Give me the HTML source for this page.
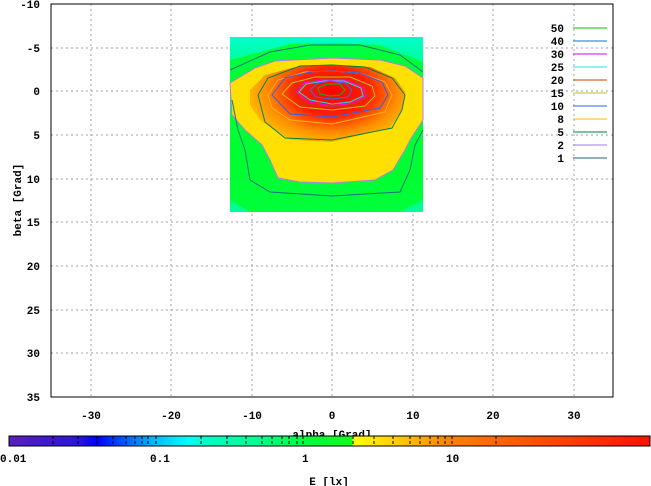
<!DOCTYPE html>
<html><head><meta charset="utf-8"><style>
body{margin:0;background:#fff}
svg{display:block}
text{font-family:"Liberation Mono",monospace;font-size:11px;font-weight:bold;fill:#000}
</style></head><body>
<svg width="651" height="486" viewBox="0 0 651 486" xmlns="http://www.w3.org/2000/svg">
<defs>
<linearGradient id="bg" x1="0" y1="0" x2="0" y2="1">
<stop offset="0" stop-color="#00ffcc"/><stop offset="0.3" stop-color="#00ff60"/><stop offset="0.8" stop-color="#00ff40"/><stop offset="1" stop-color="#00ffa0"/></linearGradient>
<linearGradient id="cb" x1="0" y1="0" x2="1" y2="0">
<stop offset="0" stop-color="#5a1ec0"/>
<stop offset="0.109" stop-color="#2a14e0"/>
<stop offset="0.137" stop-color="#0000ff"/>
<stop offset="0.229" stop-color="#00c0ff"/>
<stop offset="0.28" stop-color="#00ffff"/>
<stop offset="0.30" stop-color="#00ffcc"/>
<stop offset="0.39" stop-color="#00ff90"/>
<stop offset="0.459" stop-color="#00ff40"/>
<stop offset="0.535" stop-color="#10ff20"/>
<stop offset="0.537" stop-color="#ffff00"/>
<stop offset="0.62" stop-color="#ffc000"/>
<stop offset="0.688" stop-color="#ff8000"/>
<stop offset="1" stop-color="#ff1000"/>
</linearGradient>
<radialGradient id="hot" cx="332" cy="92" r="95" gradientUnits="userSpaceOnUse" gradientTransform="translate(332 92) scale(1 0.62) translate(-332 -92)">
<stop offset="0" stop-color="#ff0000"/><stop offset="0.4" stop-color="#ff2000"/><stop offset="0.7" stop-color="#ff9000"/><stop offset="1" stop-color="#ffd000"/></radialGradient>
</defs>
<g stroke="#a0a0a0" stroke-dasharray="2,3" stroke-width="1">
<line x1="91" y1="4" x2="91" y2="397"/><line x1="171" y1="4" x2="171" y2="397"/><line x1="252" y1="4" x2="252" y2="397"/><line x1="332" y1="4" x2="332" y2="397"/><line x1="413" y1="4" x2="413" y2="397"/><line x1="493" y1="4" x2="493" y2="397"/><line x1="574" y1="4" x2="574" y2="397"/>
<line x1="51" y1="48" x2="613" y2="48"/><line x1="51" y1="91" x2="613" y2="91"/><line x1="51" y1="135" x2="613" y2="135"/><line x1="51" y1="179" x2="613" y2="179"/><line x1="51" y1="222" x2="613" y2="222"/><line x1="51" y1="266" x2="613" y2="266"/><line x1="51" y1="310" x2="613" y2="310"/><line x1="51" y1="353" x2="613" y2="353"/>
</g>
<rect x="230" y="37" width="193" height="175" fill="url(#bg)"/>
<path d="M230,60 L290,44 L332,43 L380,45 L423,62 L423,200 L400,212 L250,212 L230,200Z" fill="#00ff30" opacity="0.9"/>
<path d="M230,83 L255,68 L275,61 L332,58 L380,60 L405,66 L423,78 L423,120 L410,140 L405,150 L393,170 L375,180 L332,183 L300,182 L278,178 L270,160 L262,145 L245,130 L232,115 Z" fill="#ffe000" stroke="#b080e0" stroke-width="1"/>
<path d="M250,90 L265,75 L300,66 L332,65 L370,67 L395,78 L405,92 L402,110 L390,128 L332,142 L290,140 L260,120 L250,105Z" fill="url(#hot)"/>
<g fill="none" stroke-width="1">
<path d="M230,70 L270,52 L310,45 L360,45 L400,55 L423,72" stroke="#207080"/>
<path d="M232,100 L238,130 L245,150 L250,180 L270,192 L332,196 L400,192 L410,170 L415,145 L423,130" stroke="#207080"/>
<path d="M258,95 L268,78 L300,66 L332,65 L365,67 L392,78 L405,95 L402,110 L392,128 L332,140 L285,138 L265,122Z" stroke="#008040"/>
<path d="M268,95 L278,80 L305,72 L332,71 L360,73 L385,82 L392,95 L385,112 L332,124 L290,120 L272,108Z" stroke="#ffb020"/>
<path d="M272,95 L285,78 L310,72 L332,71 L360,73 L382,82 L388,95 L380,108 L332,117 L290,114 Z" stroke="#3060f0"/>
<path d="M282,94 L292,83 L315,77 L350,77 L372,86 L375,96 L365,106 L332,110 L300,107Z" stroke="#c0c020"/>
<path d="M292,92 L300,83 L320,79 L345,79 L365,86 L368,96 L355,104 L332,107 L305,104Z" stroke="#c04000"/>
<path d="M296,92 L304,83 L322,80 L345,80 L363,87 L366,96 L353,103 L332,106 L308,102Z" stroke="#ff00ff"/>
<path d="M299,92 L306,84 L324,81 L344,81 L361,88 L363,96 L350,102 L332,104 L310,100Z" stroke="#20e0e0"/>
<path d="M310,90 L318,83 L330,81 L345,83 L352,90 L348,97 L332,99 L316,97Z" stroke="#3070f0"/>
<path d="M318,88 L327,84 L340,84 L345,90 L340,95 L330,96 L320,94Z" stroke="#00c000"/>
</g>
<rect x="51" y="4" width="562" height="393" fill="none" stroke="#000"/>
<g text-anchor="end">
<text x="40" y="8">-10</text><text x="40" y="52">-5</text><text x="40" y="95">0</text><text x="40" y="139">5</text><text x="40" y="183">10</text><text x="40" y="226">15</text><text x="40" y="270">20</text><text x="40" y="314">25</text><text x="40" y="357">30</text><text x="40" y="401">35</text>
</g>
<g text-anchor="middle">
<text x="91" y="419">-30</text><text x="171" y="419">-20</text><text x="252" y="419">-10</text><text x="332" y="419">0</text><text x="413" y="419">10</text><text x="493" y="419">20</text><text x="574" y="419">30</text>
<text x="332" y="438">alpha [Grad]</text>
<text x="329" y="485">E [lx]</text>
</g>
<text transform="translate(21,200) rotate(-90)" text-anchor="middle">beta [Grad]</text>
<g text-anchor="end">
<text x="564" y="32">50</text><text x="564" y="45">40</text><text x="564" y="58">30</text><text x="564" y="71">25</text><text x="564" y="84">20</text><text x="564" y="97">15</text><text x="564" y="110">10</text><text x="564" y="123">8</text><text x="564" y="136">5</text><text x="564" y="149">2</text><text x="564" y="162">1</text>
</g>
<g stroke-width="1">
<line x1="573" y1="28" x2="607" y2="28" stroke="#00c000"/>
<line x1="573" y1="41" x2="607" y2="41" stroke="#1070d0"/>
<line x1="573" y1="54" x2="607" y2="54" stroke="#d000f0"/>
<line x1="573" y1="67" x2="607" y2="67" stroke="#20e0e0"/>
<line x1="573" y1="80" x2="607" y2="80" stroke="#c04000"/>
<line x1="573" y1="93" x2="607" y2="93" stroke="#c0c020"/>
<line x1="573" y1="106" x2="607" y2="106" stroke="#3060f0"/>
<line x1="573" y1="119" x2="607" y2="119" stroke="#ffb020"/>
<line x1="573" y1="132" x2="607" y2="132" stroke="#008040"/>
<line x1="573" y1="145" x2="607" y2="145" stroke="#a080e0"/>
<line x1="573" y1="158" x2="607" y2="158" stroke="#206080"/>
</g>
<rect x="9" y="436" width="641" height="10" fill="url(#cb)" stroke="#000"/>
<g stroke="#000" stroke-dasharray="3,2">
<line x1="53" y1="436" x2="53" y2="446"/><line x1="78" y1="436" x2="78" y2="446"/><line x1="97" y1="436" x2="97" y2="446"/><line x1="113" y1="436" x2="113" y2="446"/><line x1="126" y1="436" x2="126" y2="446"/><line x1="135" y1="436" x2="135" y2="446"/><line x1="142" y1="436" x2="142" y2="446"/><line x1="148" y1="436" x2="148" y2="446"/><line x1="156" y1="436" x2="156" y2="446"/>
<line x1="201" y1="436" x2="201" y2="446"/><line x1="227" y1="436" x2="227" y2="446"/><line x1="246" y1="436" x2="246" y2="446"/><line x1="262" y1="436" x2="262" y2="446"/><line x1="272" y1="436" x2="272" y2="446"/><line x1="282" y1="436" x2="282" y2="446"/><line x1="289" y1="436" x2="289" y2="446"/><line x1="297" y1="436" x2="297" y2="446"/><line x1="303" y1="436" x2="303" y2="446"/>
<line x1="353" y1="436" x2="353" y2="446"/><line x1="374" y1="436" x2="374" y2="446"/><line x1="393" y1="436" x2="393" y2="446"/><line x1="410" y1="436" x2="410" y2="446"/><line x1="420" y1="436" x2="420" y2="446"/><line x1="430" y1="436" x2="430" y2="446"/><line x1="438" y1="436" x2="438" y2="446"/><line x1="445" y1="436" x2="445" y2="446"/><line x1="452" y1="436" x2="452" y2="446"/><line x1="496" y1="436" x2="496" y2="446"/>
</g>
<text x="0" y="462">0.01</text>
<text x="150" y="462">0.1</text>
<text x="302" y="462">1</text>
<text x="446" y="462">10</text>
</svg>
</body></html>
